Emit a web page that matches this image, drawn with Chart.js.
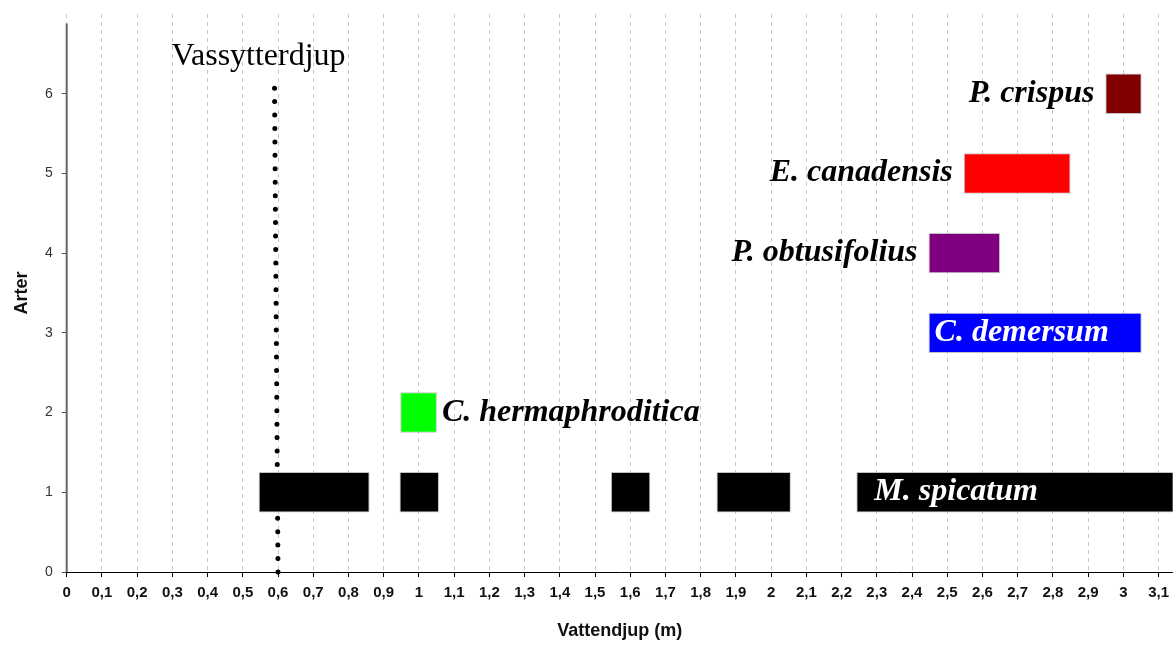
<!DOCTYPE html>
<html>
<head>
<meta charset="utf-8">
<script src="https://cdn.jsdelivr.net/npm/chart.js@4"></script>
<style>
  html, body { margin: 0; padding: 0; background: #ffffff; }
  #wrap { width: 1176px; height: 646px; }
</style>
</head>
<body>
<div id="wrap"><canvas id="c" width="1176" height="646"></canvas></div>
<script>
// ---- data ----
const species = ['M. spicatum', 'C. hermaphroditica', 'C. demersum', 'P. obtusifolius', 'E. canadensis', 'P. crispus'];
const speciesRow = [1, 2, 3, 4, 5, 6];
const speciesColor = ['#000000', '#00ff00', '#0000ff', '#800080', '#ff0000', '#800000'];
const barSpecies = [0, 0, 0, 0, 0, 1, 2, 3, 4, 5];
const barStart = [0.545, 0.945, 1.545, 1.845, 2.242, 0.947, 2.447, 2.447, 2.547, 2.949];
const barEnd   = [0.860, 1.057, 1.657, 2.056, 3.200, 1.051, 3.052, 2.650, 2.850, 3.052];
const refLineX = [0.600, 0.590];
const refLineY = [0, 6.1];
const refLineLabel = 'Vassytterdjup';
const xTitle = 'Vattendjup (m)';
const yTitle = 'Arter';

// ---- layout / style (not data) ----
const labelPlacement = ['inside', 'after', 'inside', 'before', 'before', 'before'];

const barData = barStart.map((s, i) => ({ x: [s, barEnd[i]], y: speciesRow[barSpecies[i]] }));
const barColors = barSpecies.map(k => speciesColor[k]);
const lineData = refLineX.map((x, i) => ({ x: x, y: refLineY[i] }));

const fmt = v => {
  const r = Math.round(v * 10) / 10;
  return String(r).replace('.', ',');
};

const yAxisLine = {
  id: 'yAxisLine',
  afterDatasetsDraw(chart) {
    const ctx = chart.ctx;
    const ys = chart.scales.y;
    const x = chart.chartArea.left;
    ctx.save();
    ctx.strokeStyle = '#666666';
    ctx.lineWidth = 2;
    ctx.beginPath();
    ctx.moveTo(x, ys.getPixelForValue(6.88));
    ctx.lineTo(x, ys.getPixelForValue(0));
    ctx.stroke();
    ctx.restore();
  }
};

const labelPlugin = {
  id: 'labels',
  afterDatasetsDraw(chart) {
    const ctx = chart.ctx;
    const xs = chart.scales.x, ys = chart.scales.y;
    ctx.save();
    ctx.font = 'italic bold 32px "Liberation Serif", "Times New Roman", serif';
    species.forEach((name, k) => {
      const idx = barSpecies.map((s, i) => s === k ? i : -1).filter(i => i >= 0);
      let bi = idx[0];
      idx.forEach(i => { if (barStart[i] > barStart[bi]) bi = i; });
      const yPix = ys.getPixelForValue(speciesRow[k]) + 8;
      const place = labelPlacement[k];
      ctx.textBaseline = 'alphabetic';
      if (place === 'inside') {
        ctx.fillStyle = '#ffffff';
        ctx.textAlign = 'left';
        const off = k === 0 ? 18 : 6;
        ctx.fillText(name, xs.getPixelForValue(barStart[bi]) + off, yPix);
      } else if (place === 'after') {
        ctx.fillStyle = '#000000';
        ctx.textAlign = 'left';
        ctx.fillText(name, xs.getPixelForValue(barEnd[bi]) + 5, yPix);
      } else {
        ctx.fillStyle = '#000000';
        ctx.textAlign = 'right';
        ctx.fillText(name, xs.getPixelForValue(barStart[bi]) - 11, yPix);
      }
    });
    const top = refLineY.indexOf(Math.max(...refLineY));
    ctx.font = '32px "Liberation Serif", "Times New Roman", serif';
    ctx.fillStyle = '#000000';
    ctx.textAlign = 'center';
    ctx.fillText(refLineLabel, xs.getPixelForValue(refLineX[top]) - 16, ys.getPixelForValue(refLineY[top]) - 21);
    ctx.restore();
  }
};

new Chart(document.getElementById('c'), {
  data: {
    datasets: [
      {
        type: 'bar',
        indexAxis: 'y',
        data: barData,
        backgroundColor: barColors,
        borderColor: 'rgba(170,170,170,0.7)',
        borderWidth: 1,
        borderSkipped: false,
        categoryPercentage: 1.0,
        barPercentage: 0.507,
        order: 1
      },
      {
        type: 'line',
        data: lineData,
        borderColor: '#000000',
        borderWidth: 5,
        borderDash: [0, 13.44],
        borderCapStyle: 'round',
        pointRadius: 0,
        fill: false,
        clip: 6,
        order: 2
      }
    ]
  },
  options: {
    responsive: false,
    animation: false,
    events: [],
    layout: { padding: { top: 14, right: 0, left: 0, bottom: 0 } },
    plugins: { legend: { display: false }, tooltip: { enabled: false } },
    scales: {
      x: {
        type: 'linear',
        min: 0,
        max: 3.14,
        offset: false,
        afterFit(scale) { scale.height = 74; },
        ticks: {
          stepSize: 0.1,
          includeBounds: false,
          autoSkip: false,
          maxRotation: 0,
          padding: 7,
          color: '#111111',
          font: { family: '"Liberation Sans", Arial, sans-serif', size: 15, weight: 'bold' },
          callback: v => fmt(v)
        },
        grid: {
          offset: false,
          color: '#c8c8c8',
          lineWidth: 1,
          drawTicks: true,
          tickLength: 5,
          tickColor: '#000000',
          tickBorderDash: []
        },
        border: { display: true, color: '#000000', width: 1, dash: [4, 4] },
        title: {
          display: true,
          text: xTitle,
          color: '#111111',
          font: { family: '"Liberation Sans", Arial, sans-serif', size: 18, weight: 'bold' },
          padding: { top: 0, bottom: 4 }
        }
      },
      y: {
        type: 'linear',
        min: 0,
        max: 7,
        offset: false,
        afterFit(scale) { scale.width = 66.7; scale.paddingTop = 0; scale.paddingBottom = 0; },
        afterBuildTicks(scale) { scale.ticks = scale.ticks.filter(t => t.value <= 6); },
        ticks: {
          stepSize: 1,
          padding: 9,
          color: '#333333',
          font: { family: '"Liberation Sans", Arial, sans-serif', size: 14 }
        },
        grid: {
          offset: false,
          drawOnChartArea: false,
          drawTicks: true,
          tickLength: 5,
          tickColor: '#555555'
        },
        border: { display: false },
        title: {
          display: true,
          text: yTitle,
          color: '#111111',
          font: { family: '"Liberation Sans", Arial, sans-serif', size: 18, weight: 'bold' },
          padding: { top: 11, bottom: 0 }
        }
      }
    }
  },
  plugins: [yAxisLine, labelPlugin]
});
</script>
</body>
</html>
